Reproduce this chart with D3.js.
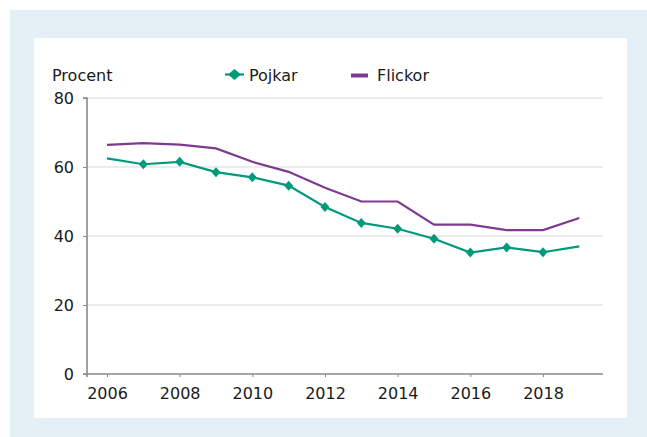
<!DOCTYPE html>
<html><head><meta charset="utf-8">
<script src="https://cdn.jsdelivr.net/npm/d3@7"></script>
<style>
html,body{margin:0;padding:0;background:#fff;}
svg{display:block;font-family:"DejaVu Sans",sans-serif;}
</style></head>
<body>
<script>
const years = [2006,2007,2008,2009,2010,2011,2012,2013,2014,2015,2016,2017,2018,2019];
const pojkar = [62.5,60.8,61.5,58.5,57.0,54.6,48.4,43.8,42.1,39.2,35.2,36.7,35.3,37.0];
const flickor = [66.4,66.9,66.5,65.4,61.5,58.6,54.0,50.0,50.0,43.3,43.3,41.7,41.7,45.2];
const yTicks = [0,20,40,60,80];
const xTicks = [2006,2008,2010,2012,2014,2016,2018];
const seriesNames = ["Pojkar","Flickor"];

const W=647,H=437;
const green="#009a7a", purple="#7e3a8e", txt="#1a1a1a", FS=16;
const svg=d3.select("body").append("svg").attr("width",W).attr("height",H);
svg.append("rect").attr("x",10).attr("y",10).attr("width",637).attr("height",427).attr("fill","#e5eff6");
svg.append("rect").attr("x",34).attr("y",38).attr("width",593).attr("height",380).attr("fill","#fff");

const x=d3.scaleLinear().domain([2006,2018]).range([107,543]);
const y=d3.scaleLinear().domain([0,80]).range([374,98]);
const x0=87, x1=603;

// custom diamond symbol
function diamondSym(w,h){
  return {draw(ctx){ctx.moveTo(0,-h/2);ctx.lineTo(w/2,0);ctx.lineTo(0,h/2);ctx.lineTo(-w/2,0);ctx.closePath();}};
}

// gridlines
svg.append("g").selectAll("line").data(yTicks.filter(d=>d>0)).join("line")
  .attr("x1",x0).attr("x2",x1).attr("y1",d=>y(d)).attr("y2",d=>y(d))
  .attr("stroke","#d9d9d9").attr("stroke-width",1.2);

// y axis
const ya=svg.append("g").attr("transform",`translate(${x0},0)`)
  .call(d3.axisLeft(y).tickValues(yTicks).tickSize(4).tickPadding(9));
ya.select(".domain").attr("stroke","#8a8a8a").attr("stroke-width",1.6).attr("d",`M-4,${y(80)}H0V${y(0)+3}`);
ya.selectAll(".tick line").attr("stroke","#8a8a8a");
ya.selectAll("text").attr("font-size",FS).attr("fill",txt).attr("font-family","DejaVu Sans");

// x axis
const xa=svg.append("g").attr("transform",`translate(0,${y(0)})`)
  .call(d3.axisBottom(x).tickValues(xTicks).tickFormat(d3.format("d")).tickSize(3).tickPadding(10.5));
xa.select(".domain").attr("stroke","#8a8a8a").attr("stroke-width",1.6).attr("d",`M${x0-4},0H${x1}`);
xa.selectAll(".tick line").attr("stroke","#8a8a8a");
xa.selectAll("text").attr("font-size",FS).attr("fill",txt).attr("font-family","DejaVu Sans");

const line=d3.line().x((d,i)=>x(years[i])).y(d=>y(d));
svg.append("path").datum(flickor).attr("d",line).attr("fill","none").attr("stroke",purple).attr("stroke-width",2.2);
svg.append("path").datum(pojkar).attr("d",line).attr("fill","none").attr("stroke",green).attr("stroke-width",2.2);

const marker=d3.symbol().type(diamondSym(9,10));
svg.append("g").selectAll("path").data(pojkar.map((v,i)=>[years[i],v]).filter((d,i)=>i>0&&i<years.length-1)).join("path")
  .attr("d",marker).attr("transform",d=>`translate(${x(d[0])},${y(d[1])})`).attr("fill",green);

// labels
svg.append("text").attr("x",52).attr("y",80.5).attr("font-size",FS).attr("fill",txt).text("Procent");
svg.append("line").attr("x1",225).attr("x2",244).attr("y1",74.5).attr("y2",74.5).attr("stroke",green).attr("stroke-width",2.2);
svg.append("path").attr("d",d3.symbol().type(diamondSym(13,11))()).attr("transform","translate(234.5,74.5)").attr("fill",green);
svg.append("text").attr("x",249).attr("y",80.5).attr("font-size",FS).attr("fill",txt).text(seriesNames[0]);
svg.append("line").attr("x1",351).attr("x2",368).attr("y1",75.5).attr("y2",75.5).attr("stroke",purple).attr("stroke-width",4);
svg.append("text").attr("x",377).attr("y",80.5).attr("font-size",FS).attr("fill",txt).text(seriesNames[1]);
</script>
</body></html>
